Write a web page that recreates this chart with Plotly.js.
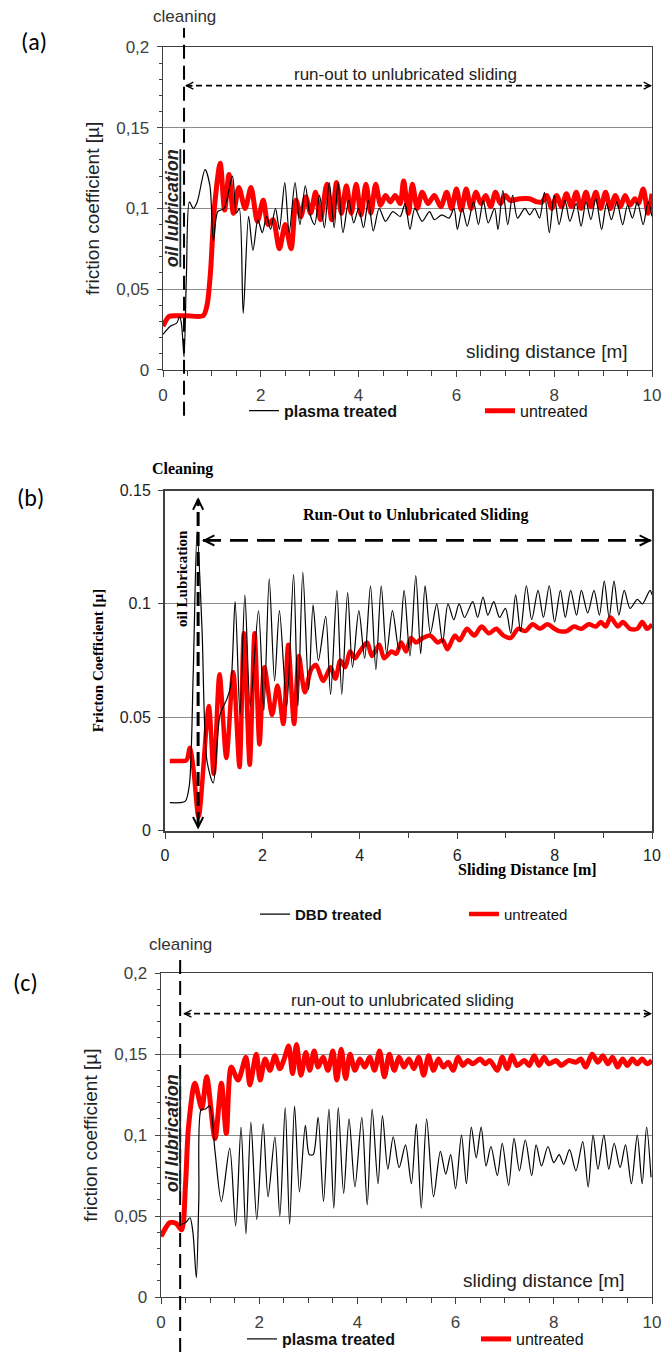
<!DOCTYPE html>
<html>
<head>
<meta charset="utf-8">
<script src="https://cdn.plot.ly/plotly-3.0.1.min.js"></script>
<style>html,body{margin:0;padding:0;background:#fff;}#chart{width:662px;height:1356px;}</style>
</head>
<body>
<div id="chart"></div>
<script>
// ---------- DATA ----------
// x tick labels (shared) and y tick labels per panel
const xTickVals = [0, 2, 4, 6, 8, 10];
const xTickText = ['0', '2', '4', '6', '8', '10'];
const yTickValsAC = [0, 0.05, 0.1, 0.15, 0.2];
const yTickTextAC = ['0', '0,05', '0,1', '0,15', '0,2'];
const yTickValsB = [0, 0.05, 0.1, 0.15];
const yTickTextB = ['0', '0.05', '0.1', '0.15'];

// panel (a) plasma treated
const aPlasmaX = [0, 0.15, 0.28, 0.34, 0.38, 0.43, 0.48, 0.54, 0.62, 0.7,
  0.86, 0.96, 1.03, 1.12, 1.25, 1.42, 1.5, 1.56, 1.64, 1.75,
  1.84, 1.94, 2.03, 2.12, 2.2, 2.3, 2.38, 2.49, 2.58, 2.7,
  2.8, 2.91, 3.0, 3.1, 3.2, 3.3, 3.4, 3.5, 3.58, 3.68,
  3.8, 3.9, 4.0, 4.1, 4.2, 4.3, 4.42, 4.55, 4.7, 4.85,
  4.95, 5.05, 5.15, 5.3, 5.45, 5.55, 5.7, 5.85, 5.95, 6.02,
  6.12, 6.22, 6.35, 6.45, 6.55, 6.65, 6.78, 6.85, 6.95, 7.05,
  7.15, 7.25, 7.4, 7.5, 7.6, 7.7, 7.8, 7.9, 8.0, 8.1,
  8.22, 8.32, 8.45, 8.55, 8.65, 8.75, 8.85, 8.97, 9.07, 9.17,
  9.28, 9.4, 9.5, 9.6, 9.7, 9.82, 9.92, 10];
const aPlasmaY = [0.022, 0.027, 0.029, 0.033, 0.028, 0.008, 0.06, 0.104, 0.1, 0.104,
  0.124, 0.114, 0.08, 0.098, 0.1, 0.12, 0.097, 0.1, 0.035, 0.095,
  0.074, 0.093, 0.085, 0.095, 0.087, 0.1, 0.087, 0.116, 0.085, 0.116,
  0.09, 0.114, 0.097, 0.09, 0.108, 0.088, 0.116, 0.088, 0.116, 0.085,
  0.105, 0.091, 0.1, 0.088, 0.105, 0.086, 0.1, 0.092, 0.098, 0.095,
  0.103, 0.087, 0.1, 0.092, 0.098, 0.093, 0.096, 0.094, 0.1, 0.087,
  0.1, 0.089, 0.104, 0.09, 0.105, 0.091, 0.1, 0.087, 0.111, 0.09,
  0.108, 0.094, 0.1, 0.096, 0.1, 0.094, 0.11, 0.085, 0.108, 0.09,
  0.105, 0.092, 0.103, 0.089, 0.104, 0.093, 0.106, 0.087, 0.103, 0.093,
  0.104, 0.09, 0.102, 0.094, 0.104, 0.09, 0.104, 0.095];

// panel (a) untreated
const aUntreatedX = [0, 0.12, 0.25, 0.5, 0.82, 0.9, 0.97, 1.05, 1.17, 1.26,
  1.35, 1.44, 1.55, 1.68, 1.8, 1.93, 2.05, 2.15, 2.25, 2.38,
  2.5, 2.62, 2.72, 2.82, 2.92, 3.02, 3.12, 3.22, 3.35, 3.45,
  3.55, 3.65, 3.75, 3.85, 3.95, 4.05, 4.15, 4.25, 4.35, 4.45,
  4.55, 4.65, 4.75, 4.85, 4.92, 5.02, 5.1, 5.2, 5.3, 5.42,
  5.55, 5.68, 5.8, 5.9, 6.0, 6.1, 6.2, 6.3, 6.4, 6.5,
  6.6, 6.7, 6.8, 6.9, 7.0, 7.1, 7.3, 7.5, 7.65, 7.75,
  7.85, 7.95, 8.05, 8.15, 8.25, 8.35, 8.45, 8.55, 8.65, 8.75,
  8.85, 8.95, 9.05, 9.15, 9.25, 9.35, 9.45, 9.55, 9.65, 9.72,
  9.82, 9.92, 10];
const aUntreatedY = [0.027, 0.033, 0.0335, 0.0335, 0.0335, 0.04, 0.06, 0.1, 0.128, 0.099,
  0.121, 0.097, 0.113, 0.1, 0.113, 0.092, 0.105, 0.09, 0.093, 0.075,
  0.09, 0.075, 0.105, 0.095, 0.107, 0.097, 0.11, 0.093, 0.115, 0.093,
  0.116, 0.097, 0.114, 0.097, 0.115, 0.096, 0.115, 0.097, 0.115, 0.102,
  0.108, 0.104, 0.108, 0.103, 0.117, 0.097, 0.115, 0.1, 0.11, 0.103,
  0.108, 0.101, 0.11, 0.1, 0.112, 0.099, 0.112, 0.1, 0.11, 0.103,
  0.108, 0.101, 0.11, 0.103, 0.108, 0.105, 0.106, 0.106, 0.104, 0.104,
  0.108, 0.1, 0.108, 0.101, 0.109, 0.101, 0.11, 0.1, 0.11, 0.101,
  0.11, 0.1, 0.11, 0.1, 0.108, 0.101, 0.108, 0.102, 0.106, 0.103,
  0.112, 0.097, 0.109];

// panel (b) DBD treated
const bDbdX = [0.1, 0.3, 0.42, 0.5, 0.58, 0.66, 0.76, 0.86, 0.99, 1.13,
  1.27, 1.35, 1.44, 1.54, 1.64, 1.75, 1.92, 2.03, 2.14, 2.25,
  2.35, 2.5, 2.64, 2.73, 2.83, 2.95, 3.04, 3.15, 3.3, 3.4,
  3.53, 3.63, 3.75, 3.85, 3.98, 4.1, 4.22, 4.33, 4.44, 4.55,
  4.67, 4.8, 4.91, 5.03, 5.15, 5.25, 5.34, 5.45, 5.58, 5.7,
  5.81, 5.93, 6.04, 6.15, 6.32, 6.42, 6.53, 6.63, 6.75, 6.87,
  6.99, 7.1, 7.2, 7.3, 7.42, 7.53, 7.66, 7.77, 7.89, 8.0,
  8.12, 8.22, 8.33, 8.45, 8.55, 8.68, 8.81, 8.92, 9.02, 9.12,
  9.22, 9.32, 9.43, 9.55, 9.7, 9.8, 9.96, 10];
const bDbdY = [0.0123, 0.0123, 0.013, 0.02, 0.07, 0.132, 0.089, 0.031, 0.021, 0.051,
  0.058, 0.064, 0.101, 0.051, 0.104, 0.055, 0.097, 0.053, 0.111, 0.066,
  0.097, 0.055, 0.113, 0.055, 0.114, 0.062, 0.0996, 0.075, 0.0945, 0.06,
  0.106, 0.06, 0.105, 0.072, 0.097, 0.076, 0.108, 0.071, 0.108, 0.078,
  0.097, 0.08, 0.106, 0.077, 0.1125, 0.078, 0.108, 0.087, 0.1, 0.083,
  0.1, 0.093, 0.1, 0.094, 0.101, 0.094, 0.103, 0.095, 0.101, 0.094,
  0.098, 0.087, 0.104, 0.088, 0.108, 0.093, 0.106, 0.094, 0.108, 0.092,
  0.106, 0.094, 0.106, 0.095, 0.106, 0.096, 0.106, 0.095, 0.11, 0.094,
  0.11, 0.095, 0.106, 0.098, 0.102, 0.1, 0.106, 0.104];

// panel (b) untreated
const bUntreatedX = [0.1, 0.3, 0.44, 0.51, 0.58, 0.69, 0.9, 1.0, 1.12, 1.26,
  1.4, 1.53, 1.62, 1.74, 1.84, 1.94, 2.04, 2.2, 2.31, 2.43,
  2.53, 2.65, 2.75, 2.87, 3.0, 3.1, 3.25, 3.4, 3.5, 3.6,
  3.7, 3.8, 3.9, 4.0, 4.15, 4.25, 4.4, 4.5, 4.65, 4.75,
  4.85, 4.95, 5.05, 5.15, 5.3, 5.45, 5.6, 5.7, 5.8, 5.95,
  6.05, 6.2, 6.35, 6.5, 6.65, 6.8, 6.95, 7.1, 7.25, 7.4,
  7.55, 7.7, 7.85, 8.0, 8.1, 8.25, 8.4, 8.55, 8.7, 8.85,
  8.95, 9.05, 9.15, 9.3, 9.4, 9.55, 9.7, 9.8, 9.9, 10];
const bUntreatedY = [0.0307, 0.0307, 0.031, 0.0365, 0.028, 0.006, 0.055, 0.025, 0.069, 0.032,
  0.07, 0.028, 0.087, 0.029, 0.087, 0.038, 0.072, 0.051, 0.064, 0.047,
  0.082, 0.047, 0.077, 0.061, 0.071, 0.073, 0.066, 0.072, 0.067, 0.075,
  0.072, 0.079, 0.076, 0.079, 0.083, 0.077, 0.082, 0.076, 0.079, 0.078,
  0.083, 0.079, 0.085, 0.083, 0.085, 0.086, 0.083, 0.084, 0.08, 0.086,
  0.084, 0.089, 0.086, 0.09, 0.087, 0.089, 0.086, 0.085, 0.089, 0.088,
  0.091, 0.089, 0.091, 0.089, 0.088, 0.088, 0.09, 0.089, 0.091, 0.09,
  0.092, 0.09, 0.094, 0.09, 0.092, 0.089, 0.089, 0.092, 0.089, 0.091];

// panel (c) plasma treated
const cPlasmaX = [0.42, 0.5, 0.59, 0.65, 0.72, 0.77, 0.82, 0.9, 0.99, 1.1,
  1.23, 1.4, 1.52, 1.63, 1.73, 1.83, 1.95, 2.08, 2.18, 2.32,
  2.42, 2.53, 2.62, 2.72, 2.82, 2.94, 3.02, 3.1, 3.2, 3.31,
  3.42, 3.52, 3.61, 3.72, 3.83, 3.95, 4.09, 4.2, 4.3, 4.42,
  4.51, 4.62, 4.73, 4.85, 4.98, 5.1, 5.2, 5.3, 5.41, 5.55,
  5.69, 5.8, 5.9, 6.0, 6.12, 6.22, 6.32, 6.42, 6.52, 6.62,
  6.72, 6.85, 6.95, 7.08, 7.19, 7.3, 7.42, 7.55, 7.64, 7.75,
  7.88, 8.0, 8.11, 8.2, 8.32, 8.45, 8.59, 8.7, 8.8, 8.9,
  9.02, 9.12, 9.23, 9.35, 9.46, 9.58, 9.7, 9.8, 9.89, 9.98];
const cPlasmaY = [0.045, 0.046, 0.049, 0.04, 0.012, 0.06, 0.116, 0.116, 0.118, 0.09,
  0.059, 0.092, 0.044, 0.105, 0.039, 0.108, 0.048, 0.107, 0.062, 0.099,
  0.05, 0.117, 0.045, 0.118, 0.065, 0.106, 0.088, 0.088, 0.111, 0.059,
  0.116, 0.055, 0.117, 0.064, 0.11, 0.068, 0.111, 0.057, 0.116, 0.07,
  0.112, 0.079, 0.099, 0.08, 0.094, 0.07, 0.107, 0.055, 0.11, 0.062,
  0.09, 0.076, 0.088, 0.067, 0.1, 0.07, 0.105, 0.086, 0.105, 0.081,
  0.093, 0.075, 0.095, 0.069, 0.098, 0.078, 0.097, 0.075, 0.094, 0.081,
  0.093, 0.083, 0.088, 0.082, 0.091, 0.078, 0.096, 0.068, 0.1, 0.079,
  0.1, 0.079, 0.095, 0.08, 0.094, 0.07, 0.1, 0.07, 0.105, 0.074];

// panel (c) untreated
const cUntreatedX = [0, 0.1, 0.18, 0.31, 0.42, 0.5, 0.56, 0.69, 0.83, 0.93,
  1.1, 1.23, 1.33, 1.43, 1.57, 1.73, 1.81, 1.94, 2.02, 2.12,
  2.22, 2.32, 2.42, 2.52, 2.6, 2.68, 2.76, 2.85, 2.95, 3.03,
  3.12, 3.2, 3.3, 3.4, 3.5, 3.58, 3.67, 3.76, 3.85, 3.95,
  4.05, 4.15, 4.25, 4.35, 4.45, 4.55, 4.65, 4.75, 4.85, 4.95,
  5.05, 5.15, 5.25, 5.35, 5.45, 5.55, 5.65, 5.75, 5.85, 5.95,
  6.05, 6.15, 6.25, 6.35, 6.5, 6.6, 6.7, 6.85, 6.95, 7.05,
  7.15, 7.25, 7.4, 7.5, 7.6, 7.7, 7.8, 7.9, 8.05, 8.15,
  8.3, 8.45, 8.55, 8.65, 8.78, 8.9, 9.0, 9.1, 9.2, 9.3,
  9.4, 9.5, 9.6, 9.7, 9.8, 9.9, 10];
const cUntreatedY = [0.0375, 0.043, 0.046, 0.0455, 0.0416, 0.07, 0.105, 0.132, 0.1165, 0.136,
  0.098, 0.132, 0.101, 0.142, 0.134, 0.148, 0.131, 0.15, 0.134, 0.147,
  0.14, 0.149, 0.141, 0.148, 0.155, 0.138, 0.156, 0.137, 0.151, 0.14,
  0.152, 0.142, 0.148, 0.14, 0.152, 0.134, 0.153, 0.135, 0.15, 0.14,
  0.147, 0.142, 0.148, 0.14, 0.152, 0.136, 0.15, 0.14, 0.148, 0.142,
  0.147, 0.141, 0.148, 0.137, 0.149, 0.14, 0.147, 0.142, 0.145, 0.14,
  0.148, 0.143, 0.146, 0.144, 0.147, 0.144, 0.146, 0.14, 0.148, 0.141,
  0.149, 0.143, 0.146, 0.143, 0.149, 0.143, 0.148, 0.144, 0.146, 0.143,
  0.146, 0.145, 0.147, 0.142, 0.15, 0.145, 0.149, 0.144, 0.148, 0.142,
  0.147, 0.143, 0.147, 0.144, 0.147, 0.144, 0.146];

// ---------- LAYOUT HELPERS ----------
const W = 662, H = 1356;
const PX = v => v / W;          // horizontal pixel -> paper
const PY = v => 1 - v / H;      // vertical pixel -> paper
const SANS = 'Liberation Sans, Arial, sans-serif';
const SERIF = 'Liberation Serif, Times New Roman, serif';
const CAL = 'Carlito, Lato, Open Sans, sans-serif';
const RED = '#ff0000';
const AXC = '#404040';

function tr(x, y, xa, ya, name, color, width, legend, rank, lw) {
  return {type: 'scatter', mode: 'lines', x: x, y: y, xaxis: xa, yaxis: ya, name: name,
    legend: legend, legendrank: rank, legendwidth: lw, hoverinfo: 'skip',
    line: {color: color, width: width, shape: 'spline', smoothing: 0.8}};
}

function xAxis(d0, d1, anchor, minorDtick, font, lw) {
  return {domain: [PX(d0), PX(d1)], anchor: anchor, range: [0, 10], autorange: false,
    tickmode: 'array', tickvals: xTickVals, ticktext: xTickText,
    ticks: 'outside', ticklen: 6, tickwidth: 1, tickcolor: AXC, ticklabelstandoff: 3,
    minor: {tickmode: 'linear', tick0: 0, dtick: minorDtick, ticks: 'outside', ticklen: 5, tickwidth: 1, tickcolor: AXC, showgrid: false},
    showgrid: false, zeroline: false, showline: true, mirror: true, linecolor: AXC, linewidth: lw,
    tickfont: font, automargin: false, fixedrange: true};
}
function yAxis(d0px, d1px, anchor, range, vals, text, minorDtick, font, title, lw) {
  const ax = {domain: [PY(d0px), PY(d1px)], anchor: anchor, range: range, autorange: false,
    tickmode: 'array', tickvals: vals, ticktext: text,
    ticks: 'outside', ticklen: 5, tickwidth: 1, tickcolor: AXC, ticklabelstandoff: 4,
    showgrid: true, gridcolor: '#8c8c8c', gridwidth: 1,
    zeroline: false, showline: true, mirror: true, linecolor: AXC, linewidth: lw,
    tickfont: font, automargin: false, fixedrange: true, title: title};
  if (minorDtick) ax.minor = {tickmode: 'linear', tick0: 0, dtick: minorDtick, ticks: 'outside', ticklen: 3, tickwidth: 1, tickcolor: AXC, showgrid: false};
  return ax;
}
function arrowHead(xref, yref, x, y, ax, ay, size, width) {
  return {xref: xref, yref: yref, x: x, y: y, ax: ax, ay: ay, axref: 'pixel', ayref: 'pixel',
    text: '', showarrow: true, arrowhead: 5, arrowsize: size, arrowwidth: width, arrowcolor: '#000', standoff: 0};
}
function txt(xref, yref, x, y, text, font, extra) {
  return Object.assign({xref: xref, yref: yref, x: x, y: y, text: text, showarrow: false,
    xanchor: 'center', yanchor: 'middle', font: font}, extra || {});
}

const tickFontAC = {family: SANS, size: 17, color: '#404040'};
const tickFontB = {family: SANS, size: 16, color: '#222'};

const data = [
  tr(aUntreatedX, aUntreatedY, 'x', 'y', 'untreated', RED, 5, 'legend', 2, 75),
  tr(aPlasmaX, aPlasmaY, 'x', 'y', '<b>plasma treated</b>', '#000', 1.2, 'legend', 1, 191),
  tr(bUntreatedX, bUntreatedY, 'x2', 'y2', 'untreated', RED, 4.5, 'legend2', 2, 70),
  tr(bDbdX, bDbdY, 'x2', 'y2', '<b>DBD treated</b>', '#000', 1.2, 'legend2', 1, 164),
  tr(cUntreatedX, cUntreatedY, 'x3', 'y3', 'untreated', RED, 5, 'legend3', 2, 75),
  tr(cPlasmaX, cPlasmaY, 'x3', 'y3', '<b>plasma treated</b>', '#000', 1.2, 'legend3', 1, 189)
];

const titleAC = {text: 'friction coefficient [µ]', font: {family: SANS, size: 19, color: '#222'}, standoff: 11};
const titleB = {text: '<b>Fricton Coefficient [µ]</b>', font: {family: SERIF, size: 15, color: '#000'}, standoff: 12};

const legendBase = {orientation: 'h', xanchor: 'left', yanchor: 'middle', entrywidthmode: 'pixels',
  bgcolor: 'rgba(0,0,0,0)', borderwidth: 0, itemwidth: 30, itemclick: false, itemdoubleclick: false};

const layout = {
  width: W, height: H, autosize: false,
  margin: {l: 0, r: 0, t: 0, b: 0, pad: 0},
  paper_bgcolor: '#fff', plot_bgcolor: '#fff',
  showlegend: true,
  xaxis: xAxis(163, 652, 'y', 0.5, tickFontAC, 1.3),
  yaxis: yAxis(371, 47, 'x', [0, 0.2], yTickValsAC, yTickTextAC, 0.01, tickFontAC, titleAC, 1.3),
  xaxis2: xAxis(165, 652, 'y2', 1, tickFontB, 2),
  yaxis2: yAxis(833, 492, 'x2', [0, 0.15], yTickValsB, yTickTextB, 0, tickFontB, titleB, 2),
  xaxis3: xAxis(161, 652, 'y3', 0.5, tickFontAC, 1.3),
  yaxis3: yAxis(1301, 976, 'x3', [0, 0.2], yTickValsAC, yTickTextAC, 0.01, tickFontAC, titleAC, 1.3),
  legend: Object.assign({}, legendBase, {x: PX(244), y: PY(412), font: {family: SANS, size: 16, color: '#111'}}),
  legend2: Object.assign({}, legendBase, {x: PX(255), y: PY(917), font: {family: SANS, size: 15, color: '#111'}}),
  legend3: Object.assign({}, legendBase, {x: PX(242), y: PY(1343), font: {family: SANS, size: 16, color: '#111'}}),
  shapes: [
    // (a) cleaning line and run-out arrow shaft
    {type: 'line', xref: 'x', yref: 'paper', x0: 0.43, x1: 0.43, y0: PY(417), y1: PY(28), line: {color: '#000', width: 2, dash: '14px,7px'}},
    {type: 'line', xref: 'x', yref: 'y', x0: 0.47, x1: 9.97, y0: 0.176, y1: 0.176, line: {color: '#000', width: 1.8, dash: '6px,4px'}},
    // (b) vertical double arrow and run-out arrow shaft
    {type: 'line', xref: 'x2', yref: 'y2', x0: 0.68, x1: 0.68, y0: 0.002, y1: 0.146, line: {color: '#000', width: 3, dash: '14px,6px'}},
    {type: 'line', xref: 'x2', yref: 'y2', x0: 0.78, x1: 9.97, y0: 0.128, y1: 0.128, line: {color: '#000', width: 2.6, dash: '18px,9px'}},
    // (c) cleaning line and run-out arrow shaft
    {type: 'line', xref: 'x3', yref: 'paper', x0: 0.39, x1: 0.39, y0: PY(1356), y1: PY(959), line: {color: '#000', width: 2, dash: '14px,7px'}},
    {type: 'line', xref: 'x3', yref: 'y3', x0: 0.47, x1: 9.97, y0: 0.175, y1: 0.175, line: {color: '#000', width: 1.8, dash: '6px,4px'}}
  ],
  annotations: [
    // (a)
    txt('paper', 'paper', PX(34), PY(42), '(a)', {family: CAL, size: 24, color: '#000'}),
    txt('paper', 'paper', PX(184), PY(17), 'cleaning', {family: SANS, size: 17, color: '#333'}),
    txt('x', 'y', 4.95, 0.183, 'run-out to unlubricated sliding', {family: SANS, size: 17, color: '#222'}),
    txt('x', 'y', 0.2, 0.1, '<b><i><u>oil lubrication</u></i></b>', {family: SANS, size: 18, color: '#222'}, {textangle: -90}),
    txt('x', 'y', 9.55, 0.0117, 'sliding distance [m]', {family: SANS, size: 19, color: '#222'}, {xanchor: 'right'}),
    arrowHead('x', 'y', 10, 0.176, -9, 0, 0.9, 1.5),
    arrowHead('x', 'y', 0.45, 0.176, 9, 0, 0.9, 1.5),
    // (b)
    txt('paper', 'paper', PX(30), PY(499), '(b)', {family: CAL, size: 24, color: '#000'}),
    txt('paper', 'paper', PX(182), PY(470), '<b>Cleaning</b>', {family: SERIF, size: 16, color: '#000'}),
    txt('x2', 'y2', 5.15, 0.139, '<b>Run-Out to Unlubricated Sliding</b>', {family: SERIF, size: 16, color: '#000'}),
    txt('x2', 'y2', 0.35, 0.111, '<b>oil Lubrication</b>', {family: SERIF, size: 15, color: '#000'}, {textangle: -90}),
    txt('paper', 'paper', PX(527), PY(873), '<b>Sliding Distance [m]</b>', {family: SERIF, size: 16, color: '#000'}),
    arrowHead('x2', 'y2', 0.68, 0.147, 0, 10, 1.0, 2),
    arrowHead('x2', 'y2', 0.68, 0.0005, 0, -10, 1.0, 2),
    arrowHead('x2', 'y2', 10, 0.128, -10, 0, 1.0, 2),
    arrowHead('x2', 'y2', 0.76, 0.128, 10, 0, 1.0, 2),
    // (c)
    txt('paper', 'paper', PX(25), PY(985), '(c)', {family: CAL, size: 24, color: '#000'}),
    txt('paper', 'paper', PX(180), PY(947), 'cleaning', {family: SANS, size: 17, color: '#333'}),
    txt('x3', 'y3', 4.92, 0.183, 'run-out to unlubricated sliding', {family: SANS, size: 17, color: '#222'}),
    txt('x3', 'y3', 0.22, 0.101, '<b><i><u>oil lubrication</u></i></b>', {family: SANS, size: 18, color: '#222'}, {textangle: -90}),
    txt('x3', 'y3', 9.49, 0.0105, 'sliding distance [m]', {family: SANS, size: 19, color: '#222'}, {xanchor: 'right'}),
    arrowHead('x3', 'y3', 10, 0.175, -9, 0, 0.9, 1.5),
    arrowHead('x3', 'y3', 0.45, 0.175, 9, 0, 0.9, 1.5)
  ]
};

Plotly.newPlot('chart', data, layout, {staticPlot: true, displayModeBar: false});
</script>
</body>
</html>
